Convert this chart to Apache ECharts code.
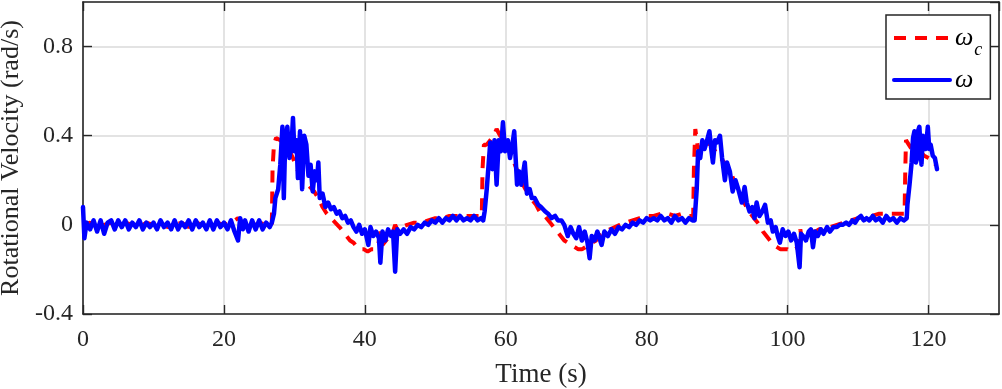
<!DOCTYPE html>
<html>
<head>
<meta charset="utf-8">
<script src="https://cdn.jsdelivr.net/npm/echarts@6/dist/echarts.min.js"></script>
<style>
html,body{margin:0;padding:0;background:#fff;}
#chart{width:1002px;height:389px;}
</style>
</head>
<body>
<div id="chart"></div>
<script>
// Commanded rotational velocity ω_c  [time (s), rad/s]
const omegaCmd = [
[0,0.0],[1,0.01],[2,-0.01],[3,0.0],[4,0.01],[5,-0.01],[6,0.01],[7,0.0],[8,-0.01],[9,0.01],
[10,0.0],[11,0.01],[12,-0.01],[13,0.0],[14,0.01],[15,-0.01],[16,0.01],[17,0.0],[18,-0.01],[19,0.01],
[20,0.0],[21,0.01],[22,0.03],[23,0.0],[24,-0.01],[25,0.01],[26,0.0],[26.8,0.0],
[26.9,0.25],[27.1,0.36],[27.4,0.39],[28.0,0.38],[28.6,0.36],[29.2,0.34],[29.8,0.30],[30.4,0.25],[31.0,0.21],
[31.6,0.19],[32.2,0.17],[32.8,0.15],[33.4,0.12],[34.0,0.08],[34.6,0.05],[35.2,0.03],[35.8,0.01],[36.4,-0.01],
[36.9,-0.03],[37.4,-0.05],[37.9,-0.07],[38.4,-0.08],[38.9,-0.10],[39.4,-0.11],[39.9,-0.11],[40.4,-0.12],
[40.9,-0.11],[41.4,-0.11],[41.9,-0.09],[42.2,-0.03],[42.5,-0.09],[43.0,-0.07],[43.5,-0.05],[44.0,-0.03],
[44.3,0.0],[44.6,-0.02],[45.2,-0.01],[46.0,0.0],[47.0,0.01],[48.0,0.01],[49.0,0.02],[50.0,0.03],[51.0,0.03],
[52.0,0.04],[53.0,0.04],[54.0,0.04],[55.0,0.04],[56.0,0.04],[56.6,0.04],
[56.7,0.25],[56.9,0.36],[57.3,0.36],[57.8,0.38],[58.3,0.40],[58.7,0.43],[59.2,0.40],[59.8,0.37],[60.3,0.35],
[60.8,0.31],[61.3,0.27],[61.8,0.23],[62.3,0.19],[62.8,0.16],[63.3,0.14],[63.8,0.11],[64.3,0.09],[64.8,0.06],
[65.3,0.05],[65.8,0.03],[66.3,0.01],[66.8,-0.01],[67.3,-0.03],[67.8,-0.05],[68.3,-0.07],[68.8,-0.08],
[69.3,-0.09],[69.8,-0.10],[70.3,-0.11],[70.8,-0.11],[71.3,-0.10],[71.8,-0.09],[72.3,-0.08],[72.8,-0.07],
[73.3,-0.05],[73.8,-0.04],[74.3,-0.03],[74.8,-0.02],[75.5,-0.01],[76.2,0.0],[77.0,0.01],[78.0,0.02],
[79.0,0.03],[80.0,0.04],[81.0,0.04],[82.0,0.05],[83.0,0.05],[84.0,0.04],[85.0,0.05],[86.0,0.04],[86.6,0.04],
[86.7,0.25],[86.9,0.43],[87.2,0.36],[87.5,0.33],[88.0,0.35],[88.5,0.37],[89.0,0.36],[89.5,0.34],[90.0,0.32],
[90.5,0.30],[91.0,0.28],[91.5,0.26],[92.0,0.23],[92.5,0.19],[93.0,0.15],[93.5,0.12],[94.0,0.09],[94.5,0.06],
[95.0,0.04],[95.5,0.02],[96.0,0.0],[96.5,-0.03],[97.0,-0.05],[97.5,-0.07],[98.0,-0.09],[98.5,-0.10],
[99.0,-0.11],[99.5,-0.11],[100.0,-0.11],[100.5,-0.12],[101.0,-0.11],[101.6,-0.10],[101.8,-0.02],[102.0,-0.06],
[102.5,-0.05],[103.0,-0.04],[103.5,-0.03],[104.0,-0.03],[104.5,-0.02],[105.0,-0.02],[106.0,-0.01],[107.0,0.0],
[108.0,0.01],[109.0,0.02],[110.0,0.03],[111.0,0.04],[112.0,0.04],[113.0,0.05],[114.0,0.05],[115.0,0.05],
[116.0,0.05],[116.6,0.05],
[116.7,0.25],[116.8,0.38],[117.2,0.36],[117.6,0.34],[118.2,0.34],[118.8,0.33],[119.4,0.31],[120.0,0.30],
[120.6,0.29],[121.0,0.27]
];

// Measured rotational velocity ω  [time (s), rad/s]
const omegaMeas = [
[0,0.08],[0.2,-0.06],[0.5,0.01],[1.0,-0.02],[1.5,0.02],[2.0,-0.03],[2.5,0.02],[3.0,-0.04],[3.5,0.01],
[4.0,0.02],[4.5,-0.02],[5.0,0.02],[5.5,-0.01],[6.0,0.02],[6.5,-0.02],[7.0,0.01],[7.5,-0.01],[8.0,0.02],
[8.5,-0.02],[9.0,0.01],[9.5,-0.01],[10.0,0.01],[10.5,-0.02],[11.0,0.02],[11.5,-0.01],[12.0,0.01],
[12.5,-0.02],[13.0,0.02],[13.5,-0.02],[14.0,0.01],[14.5,-0.01],[15.0,0.02],[15.5,-0.02],[16.0,0.02],
[16.5,-0.01],[17.0,0.01],[17.5,-0.02],[18.0,0.02],[18.5,-0.02],[19.0,0.02],[19.5,-0.01],[20.0,0.01],
[20.5,-0.02],[21.0,0.02],[21.5,-0.03],[22.0,-0.07],[22.3,0.03],[22.7,-0.02],[23.0,0.02],[23.5,-0.03],
[24.0,0.02],[24.5,-0.02],[25.0,0.02],[25.5,-0.02],[26.0,0.01],[26.5,-0.01],[26.8,0.01],
[27.1,0.05],[27.3,0.12],[27.7,0.16],[28.0,0.27],[28.3,0.44],[28.5,0.12],[28.7,0.38],[29.0,0.44],[29.3,0.30],
[29.6,0.36],[29.8,0.48],[30.0,0.33],[30.3,0.38],[30.5,0.21],[30.8,0.42],[31.1,0.16],[31.4,0.40],[31.7,0.36],
[32.0,0.22],[32.3,0.27],[32.6,0.15],[32.9,0.24],[33.2,0.20],[33.4,0.28],[33.6,0.12],[34.0,0.14],[34.4,0.08],
[34.8,0.10],[35.2,0.07],[35.6,0.08],[36.0,0.05],[36.4,0.06],[36.8,0.03],[37.2,0.04],[37.6,0.01],[38.0,0.02],
[38.4,-0.01],[38.8,-0.03],[39.2,0.0],[39.6,-0.04],[40.0,-0.02],[40.5,-0.09],[40.8,-0.01],[41.2,-0.05],
[41.6,-0.03],[42.0,-0.06],[42.2,-0.17],[42.5,-0.03],[42.9,-0.07],[43.3,-0.02],[43.7,-0.05],[44.0,-0.03],
[44.3,-0.21],[44.6,-0.02],[45.0,-0.04],[45.5,-0.02],[46.0,-0.04],[46.5,-0.01],[47.0,-0.02],[47.5,0.0],
[48.0,-0.01],[48.5,0.01],[49.0,0.0],[49.5,0.02],[50.0,0.01],[50.5,0.03],[51.0,0.01],[51.5,0.03],[52.0,0.02],
[52.5,0.04],[53.0,0.02],[53.5,0.04],[54.0,0.02],[54.5,0.03],[55.0,0.02],[55.5,0.04],[56.0,0.02],[56.5,0.03],
[56.8,0.02],[57.0,0.06],[57.3,0.16],[57.8,0.37],[58.1,0.25],[58.4,0.38],[58.7,0.18],[59.0,0.38],[59.3,0.33],
[59.6,0.46],[59.9,0.33],[60.3,0.38],[60.6,0.30],[60.9,0.35],[61.2,0.42],[61.6,0.18],[61.9,0.24],[62.2,0.18],
[62.7,0.28],[63.0,0.14],[63.4,0.16],[63.7,0.12],[64.1,0.12],[64.6,0.09],[65.0,0.08],[65.6,0.06],[66.0,0.05],
[66.5,0.03],[67.0,0.04],[67.4,0.02],[67.9,0.02],[68.3,0.0],[68.8,-0.05],[69.2,-0.01],[69.6,-0.04],
[70.0,-0.06],[70.4,-0.01],[70.8,-0.07],[71.2,-0.03],[71.6,-0.08],[71.9,-0.15],[72.2,-0.05],[72.6,-0.07],
[73.0,-0.03],[73.6,-0.09],[74.0,-0.03],[74.5,-0.05],[75.0,-0.02],[75.5,-0.04],[76.0,-0.01],[76.5,-0.02],
[77.0,0.0],[77.5,-0.01],[78.0,0.01],[78.5,0.0],[79.0,0.02],[79.5,0.01],[80.0,0.03],[80.5,0.02],[81.0,0.03],
[81.5,0.02],[82.0,0.04],[82.5,0.02],[83.0,0.03],[83.5,0.01],[84.0,0.04],[84.5,0.02],[85.0,0.03],[85.5,0.01],
[86.0,0.03],[86.5,0.02],
[86.8,0.02],[87.1,0.16],[87.3,0.33],[87.6,0.30],[87.9,0.38],[88.2,0.34],[88.5,0.37],[88.9,0.42],[89.2,0.33],
[89.4,0.28],[89.7,0.38],[90.0,0.37],[90.4,0.40],[90.7,0.30],[91.1,0.20],[91.4,0.28],[91.8,0.24],[92.2,0.15],
[92.6,0.20],[93.0,0.16],[93.5,0.10],[93.9,0.17],[94.2,0.10],[94.6,0.06],[95.0,0.08],[95.3,0.03],[95.6,0.10],
[96.0,0.04],[96.4,0.06],[96.8,0.09],[97.2,0.01],[97.6,0.02],[97.9,-0.03],[98.3,-0.01],[98.6,-0.05],
[98.9,-0.08],[99.3,-0.02],[99.7,-0.05],[100.1,-0.03],[100.5,-0.07],[100.9,-0.04],[101.3,-0.08],[101.7,-0.19],
[101.9,-0.04],[102.2,-0.05],[102.6,-0.07],[103.0,-0.03],[103.3,-0.02],[103.6,-0.10],[103.9,-0.03],
[104.3,-0.05],[104.7,-0.02],[105.1,-0.04],[105.6,-0.01],[106.0,-0.03],[106.5,-0.01],[107.0,-0.01],
[107.4,0.0],[107.8,0.0],[108.3,0.01],[108.7,0.0],[109.2,0.02],[109.6,0.01],[110.0,0.03],[110.4,0.04],
[110.8,0.02],[111.2,0.03],[111.6,0.02],[112.1,0.04],[112.5,0.02],[113.0,0.03],[113.5,0.01],[114.0,0.04],
[114.5,0.02],[115.0,0.03],[115.5,0.01],[116.0,0.03],[116.5,0.02],[116.9,0.03],
[117.0,0.09],[117.3,0.18],[117.6,0.28],[117.8,0.39],[118.0,0.42],[118.2,0.28],[118.4,0.30],[118.5,0.42],
[118.7,0.44],[119.0,0.27],[119.2,0.40],[119.4,0.38],[119.6,0.34],[119.9,0.44],[120.1,0.34],[120.3,0.36],
[120.6,0.31],[120.9,0.30],[121.2,0.25]
];

const seriesNames = ['ω_c', 'ω'];
const xRange = [0, 130];
const yRange = [-0.4, 1.0];

const axisColor = '#262626';
const serif = '"Liberation Serif", "Times New Roman", "DejaVu Serif", serif';

const chart = echarts.init(document.getElementById('chart'), null, {renderer: 'canvas'});

const baseAxisLine = {show: true, onZero: false, lineStyle: {color: axisColor, width: 1.6}};
const baseTick = {show: true, inside: true, length: 9, lineStyle: {color: axisColor, width: 1.4}};

chart.setOption({
  animation: false,
  backgroundColor: '#ffffff',
  grid: {left: 83, right: 3, top: 2, bottom: 75, containLabel: false, outerBoundsMode: 'none'},
  legend: {
    data: seriesNames,
    orient: 'vertical',
    left: 886,
    top: 15,
    backgroundColor: '#ffffff',
    borderColor: axisColor,
    borderWidth: 1.5,
    borderRadius: 0,
    padding: [10, 8, 6, 6],
    itemGap: 8,
    itemWidth: 56,
    itemHeight: 2,
    itemStyle: {opacity: 0},
    lineStyle: {width: 4},
    formatter: function (name) {
      if (name === 'ω_c') return '{w|ω}{s|c}';
      return '{w|ω}';
    },
    textStyle: {
      color: '#000',
      rich: {
        w: {fontFamily: serif, fontStyle: 'italic', fontSize: 26, lineHeight: 30, color: '#000'},
        s: {fontFamily: serif, fontStyle: 'italic', fontSize: 18, lineHeight: 30, verticalAlign: 'bottom', padding: [0, 0, -6, 1], color: '#000'}
      }
    }
  },
  xAxis: [
    {
      type: 'value', min: xRange[0], max: xRange[1], interval: 20, position: 'bottom',
      axisLine: baseAxisLine, axisTick: baseTick,
      axisLabel: {show: true, showMaxLabel: false, margin: 14, color: axisColor, fontFamily: serif, fontSize: 24},
      splitLine: {show: true, lineStyle: {color: '#e3e3e3', width: 2}},
      name: 'Time (s)', nameLocation: 'middle', nameGap: 47,
      nameTextStyle: {color: axisColor, fontFamily: serif, fontSize: 27}
    },
    {
      type: 'value', min: xRange[0], max: xRange[1], interval: 20, position: 'top',
      axisLine: baseAxisLine, axisTick: baseTick,
      axisLabel: {show: false}, splitLine: {show: false}
    }
  ],
  yAxis: [
    {
      type: 'value', min: yRange[0], max: yRange[1], interval: 0.4, position: 'left',
      axisLine: baseAxisLine, axisTick: baseTick,
      axisLabel: {show: true, showMaxLabel: false, margin: 10, color: axisColor, fontFamily: serif, fontSize: 24},
      splitLine: {show: true, lineStyle: {color: '#e3e3e3', width: 2}},
      name: 'Rotational Velocity (rad/s)', nameLocation: 'middle', nameGap: 57,
      nameTextStyle: {color: axisColor, fontFamily: serif, fontSize: 26}
    },
    {
      type: 'value', min: yRange[0], max: yRange[1], interval: 0.4, position: 'right',
      axisLine: baseAxisLine, axisTick: baseTick,
      axisLabel: {show: false}, splitLine: {show: false}
    }
  ],
  series: [
    {
      name: seriesNames[0], type: 'line', xAxisIndex: 0, yAxisIndex: 0,
      data: omegaCmd, showSymbol: false, symbol: 'none',
      lineStyle: {color: '#ff0000', width: 4, type: [12, 9]},
      itemStyle: {color: '#ff0000'},
      z: 2
    },
    {
      name: seriesNames[1], type: 'line', xAxisIndex: 0, yAxisIndex: 0,
      data: omegaMeas, showSymbol: false, symbol: 'none',
      lineStyle: {color: '#0000ff', width: 4.5, join: 'round', cap: 'round'},
      itemStyle: {color: '#0000ff'},
      z: 3
    }
  ]
});
</script>
</body>
</html>
